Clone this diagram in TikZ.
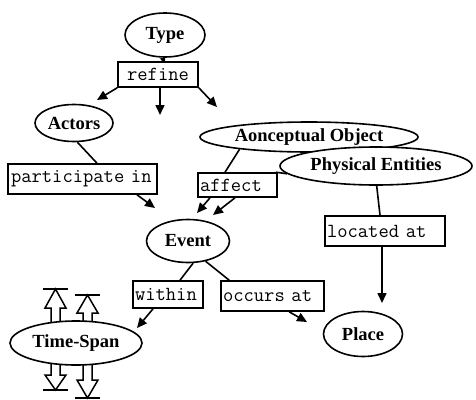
\documentclass[tikz,border=0pt]{standalone}
\usepackage{fontspec}
\setmainfont{Liberation Serif}
\usetikzlibrary{shapes.geometric,arrows.meta}

% hollow arrow with a bar across its tip: #1 = x, #2 = foot, #3 = tip, #4 = head base
\newcommand{\barrowhead}[4]{%
  \draw[hollow] (#1-4.5,#2) -- (#1-4.5,#4) -- (#1-10.5,#4) -- (#1,#3)
    -- (#1+10.5,#4) -- (#1+4.5,#4) -- (#1+4.5,#2);
  \draw[hollow] (#1-12.5,#3) -- (#1+12.5,#3);
}

\begin{document}
\begin{tikzpicture}[x=1pt,y=-1pt,
  ent/.style={ellipse,draw,line width=1.6pt,fill=white,inner sep=0pt,
    font=\bfseries\fontsize{18.5}{18.5}\selectfont},
  rel/.style={rectangle,draw,line width=1.6pt,fill=white,inner ysep=0pt,
    inner xsep=2pt,font=\ttfamily\fontsize{20}{20}\selectfont},
  link/.style={line width=1.6pt},
  arr/.style={line width=1.6pt,-{Triangle[length=10pt,width=9pt]}},
  hollow/.style={line width=1.5pt,line join=miter}
]
\useasboundingbox (0,0) rectangle (476,399);

% entities
\node[ent,minimum width=80pt,minimum height=44pt] (type) at (165,35) {Type};
\node[ent,minimum width=78pt,minimum height=37pt] (actors) at (74,123) {Actors};
\node[ent,minimum width=218pt,minimum height=30pt] (aon) at (309,137) {Aonceptual Object};
\node[ent,minimum width=192pt,minimum height=38pt] (phys) at (376,166) {Physical Entities};
\node[ent,minimum width=83pt,minimum height=43pt] (event) at (188,241) {Event};
\node[ent,minimum width=79pt,minimum height=45pt] (place) at (363,334) {Place};

% time span with its bounding arrows
\barrowhead{55.5}{330}{289}{308}
\barrowhead{87.5}{330}{295}{313}
\barrowhead{55.5}{356}{390}{375}
\barrowhead{87.5}{356}{398}{380}
\node[ent,minimum width=132pt,minimum height=44pt] (span) at (76,343) {Time-Span};

% relations
\node[rel,text width=76pt,align=center,minimum height=25pt] (refine) at (158,74.5) {refine};
\node[rel,text width=143pt,align=left,inner xsep=3pt,minimum height=30pt] (part) at (82.5,179) {\mbox{participate in}};
\node[rel,text width=75pt,align=left,minimum height=24pt] (affect) at (237.5,185) {affect};
\node[rel,text width=66pt,align=left,minimum height=27pt] (within) at (168,294.5) {within};
\node[rel,text width=99pt,align=left,minimum height=30pt] (occurs) at (272.5,296) {\mbox{occurs at}};
\node[rel,text width=116pt,align=left,minimum height=30pt] (located) at (385,231) {\mbox{located at}};

\coordinate (down) at (160,115);

% connectors
\draw[link,-{Triangle[length=4pt,width=7pt]}] ([xshift=4pt]refine.north) -- (type.south);
\draw[arr] (refine.south west) -- ([shift={(23,-23)}]actors.center);
\draw[arr] ([xshift=2pt]refine.south) -- (down);
\draw[arr] (refine.south east) -- ([shift={(-92,-30)}]aon.center);

\draw[link] (actors.-80) -- ([xshift=14.5pt]part.north);
\draw[arr] ([xshift=54.5pt]part.south) -- ([shift={(-33,-33)}]event.center);

\draw[link] (aon.190.5) -- ([xshift=-12.5pt]affect.north);
\draw[link] (phys.185) -- ([xshift=-2pt]affect.north east);
\draw[arr] ([xshift=-27.5pt]affect.south) -- ([shift={(9,-28)}]event.center);
\draw[arr] ([xshift=-2.5pt]affect.south) -- ([shift={(25,-26)}]event.center);

\draw[link] (event.-77) -- ([xshift=12pt]within.north);
\draw[arr] ([xshift=-15pt]within.south) -- ([shift={(61,-15)}]span.center);

\draw[link] (event.-49) -- ([xshift=9pt]occurs.north west);
\draw[arr] ([xshift=69pt]occurs.south west) -- ([shift={(-56,-12)}]place.center);

\draw[link] (phys.-88) -- ([xshift=-5pt]located.north);
\draw[arr] ([xshift=-3pt]located.south) -- ([shift={(19,-31)}]place.center);
\end{tikzpicture}
\end{document}
